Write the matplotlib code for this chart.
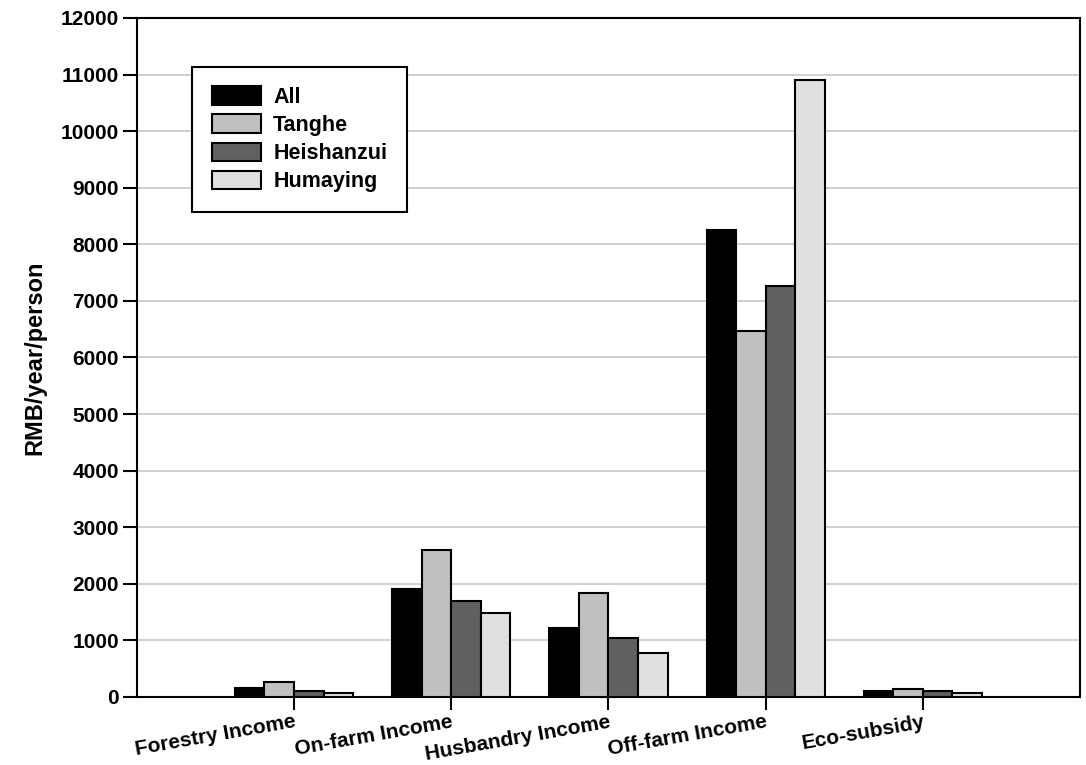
import matplotlib.pyplot as plt
import numpy as np

categories = ['Forestry Income', 'On-farm Income', 'Husbandry Income', 'Off-farm Income', 'Eco-subsidy']
series_names = ['All', 'Tanghe', 'Heishanzui', 'Humaying']
all_vals = [155, 1910, 1220, 8250, 106]
tanghe_vals = [265, 2600, 1840, 6460, 141]
heishanzui_vals = [106, 1690, 1040, 7260, 111]
humaying_vals = [76, 1475, 780, 10900, 71]
colors = ['#000000', '#c0c0c0', '#606060', '#e0e0e0']

plt.rcParams['font.family'] = ['Liberation Sans', 'DejaVu Sans']

fig = plt.figure(figsize=(10.86, 7.65), dpi=100)
ax = fig.add_axes([0.126, 0.089, 0.8685, 0.8875])

x = np.arange(1, len(categories) + 1)
w = 0.188
data = [all_vals, tanghe_vals, heishanzui_vals, humaying_vals]
for i, (vals, name, c) in enumerate(zip(data, series_names, colors)):
    ax.bar(x + (i - 1.5) * w, vals, width=w, color=c, edgecolor='black',
           linewidth=1.5, label=name, zorder=3)

ax.set_xlim(0, 6)
ax.set_ylim(0, 12000)
ax.set_yticks(np.arange(0, 12001, 1000))
ax.yaxis.grid(True, color='#c8c8c8', linewidth=1.2, zorder=0)
ax.set_xticks(x)
ax.set_xticklabels(categories, rotation=10, ha='right', rotation_mode='anchor',
                   fontsize=15, fontweight='bold')
for lbl in ax.get_yticklabels():
    lbl.set_fontweight('bold')
    lbl.set_fontsize(15)
ax.tick_params(axis='x', length=9, width=1.5, pad=2)
ax.tick_params(axis='y', length=10, width=1.5, pad=3)
for s in ax.spines.values():
    s.set_linewidth(1.5)
ax.set_ylabel('RMB/year/person', fontsize=17, fontweight='bold', labelpad=10)

leg = ax.legend(loc='upper left', bbox_to_anchor=(0.059, 0.928), borderaxespad=0,
                fancybox=False, edgecolor='black', framealpha=1,
                prop={'weight': 'bold', 'size': 15.5},
                handlelength=2.3, handleheight=0.95, borderpad=0.9,
                labelspacing=0.3, handletextpad=0.55)
leg.get_frame().set_linewidth(1.5)

fig.savefig('out.png', dpi=100)
